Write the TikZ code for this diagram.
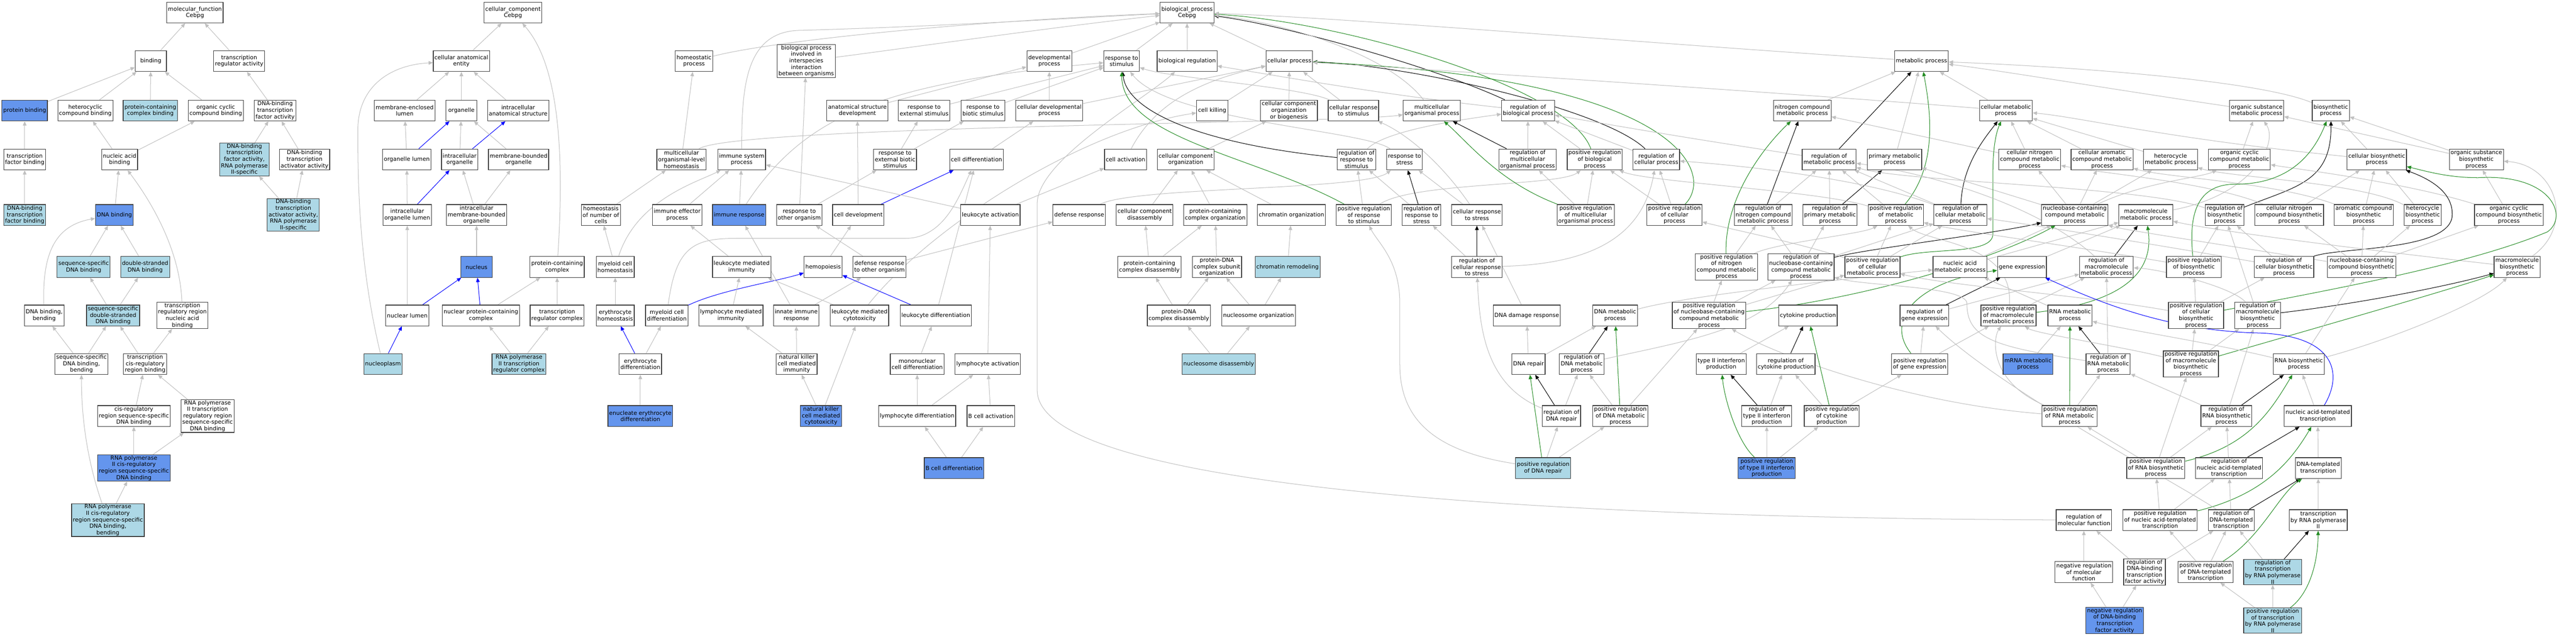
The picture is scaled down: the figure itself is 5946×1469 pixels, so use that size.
\documentclass[tikz,border=0pt]{standalone}
\usepackage{fontspec}
\setmainfont{DejaVu Sans}
\usetikzlibrary{arrows.meta}
\pgfdeclarelayer{back}
\pgfdeclarelayer{bg}
\pgfsetlayers{back,bg,main}
\definecolor{lbfill}{HTML}{ADD8E6}
\definecolor{cbfill}{HTML}{6495ED}
\definecolor{edgegray}{HTML}{C0C0C0}
\definecolor{grn}{HTML}{228B22}
\definecolor{bdr}{HTML}{3C3C3C}
\tikzset{
 bx/.style={draw=bdr, line width=1.5pt, fill=white, align=center, inner xsep=3pt, inner ysep=1.5pt, minimum width=72pt, minimum height=48pt, font=\fontsize{13}{15}\selectfont},
 bxl/.style={bx, fill=lbfill},
 bxc/.style={bx, fill=cbfill},
 lnk/.style={draw=edgegray, line width=1.2pt, -{Triangle[length=10pt,width=8.5pt]}},
 lnkb/.style={lnk, draw=blue},
 lnkk/.style={lnk, draw=black},
 lnkg/.style={lnk, draw=grn},
}
\begin{document}
\begin{tikzpicture}[x=1pt,y=-1pt]
\useasboundingbox (0,0) rectangle (5946,1469);
\begin{pgfonlayer}{back}
\fill[white] (0,0) rectangle (5946,1469);
\end{pgfonlayer}
% row 0
\node[bx] (mf) at (450,29) {molecular\_function\\Cebpg};
\node[bx] (cc) at (1184,29) {cellular\_component\\Cebpg};
\node[bx] (bp) at (2740,29) {biological\_process\\Cebpg};
% row 1
\node[bx] (binding) at (348,141) {binding};
\node[bx] (tra) at (552,141) {transcription\\regulator activity};
\node[bx] (cae) at (1065,141) {cellular anatomical\\entity};
\node[bx] (homeo) at (1602,141) {homeostatic\\process};
\node[bx] (bpi) at (1861,141) {biological process\\involved in\\interspecies\\interaction\\between organisms};
\node[bx] (dev) at (2422,141) {developmental\\process};
\node[bx] (rs) at (2589,141) {response to\\stimulus};
\node[bx] (breg) at (2740,141) {biological regulation};
\node[bx] (cp) at (2976,141) {cellular process};
\node[bx] (met) at (4435,141) {metabolic process};
% row 2
\node[bxc] (pb) at (57,255) {protein binding};
\node[bx] (hcb) at (197,255) {heterocyclic\\compound binding};
\node[bxl] (pccb) at (347,255) {protein-containing\\complex binding};
\node[bx] (occb) at (498,255) {organic cyclic\\compound binding};
\node[bx] (dbtf) at (635,255) {DNA-binding\\transcription\\factor activity};
\node[bx] (mel) at (934,255) {membrane-enclosed\\lumen};
\node[bx] (org) at (1065,255) {organelle};
\node[bx] (ias) at (1196,255) {intracellular\\anatomical structure};
\node[bx] (asd) at (1979,255) {anatomical structure\\development};
\node[bx] (rse) at (2133,255) {response to\\external stimulus};
\node[bx] (rbs) at (2269,255) {response to\\biotic stimulus};
\node[bx] (cdp) at (2422,255) {cellular developmental\\process};
\node[bx] (ck) at (2798,255) {cell killing};
\node[bx] (ccob) at (2975,255) {cellular component\\organization\\or biogenesis};
\node[bx] (crs) at (3124,255) {cellular response\\to stimulus};
\node[bx] (mop) at (3305,255) {multicellular\\organismal process};
\node[bx] (rbp) at (3527,255) {regulation of\\biological process};
\node[bx] (ncm) at (4160,255) {nitrogen compound\\metabolic process};
\node[bx] (cmp) at (4630,255) {cellular metabolic\\process};
\node[bx] (osm) at (5209,255) {organic substance\\metabolic process};
\node[bx] (bio) at (5380,255) {biosynthetic\\process};
% row 3
\node[bx] (tfb) at (57,368) {transcription\\factor binding};
\node[bx] (nab) at (276,368) {nucleic acid\\binding};
\node[bxl] (dbtf2) at (564,368) {DNA-binding\\transcription\\factor activity,\\RNA polymerase\\II-specific};
\node[bx] (dbta) at (703,368) {DNA-binding\\transcription\\activator activity};
\node[bx] (ol) at (939,368) {organelle lumen};
\node[bx] (io) at (1061,368) {intracellular\\organelle};
\node[bx] (mbo) at (1197,368) {membrane-bounded\\organelle};
\node[bx] (mloh) at (1573,368) {multicellular\\organismal-level\\homeostasis};
\node[bx] (isp) at (1712,368) {immune system\\process};
\node[bx] (rebs) at (2066,368) {response to\\external biotic\\stimulus};
\node[bx] (cdiff) at (2254,368) {cell differentiation};
\node[bx] (cact) at (2598,368) {cell activation};
\node[bx] (cco) at (2737,368) {cellular component\\organization};
\node[bx] (rrs) at (3131,368) {regulation of\\response to\\stimulus};
\node[bx] (rstress) at (3242,368) {response to\\stress};
\node[bx] (rmop) at (3526,368) {regulation of\\multicellular\\organismal process};
\node[bx] (prbp) at (3681,368) {positive regulation\\of biological\\process};
\node[bx] (rcp) at (3823,368) {regulation of\\cellular process};
\node[bx] (rmp) at (4222,368) {regulation of\\metabolic process};
\node[bx] (pmp) at (4373,368) {primary metabolic\\process};
\node[bx] (cncm) at (4685,368) {cellular nitrogen\\compound metabolic\\process};
\node[bx] (cacm) at (4852,368) {cellular aromatic\\compound metabolic\\process};
\node[bx] (hmp) at (5010,368) {heterocycle\\metabolic process};
\node[bx] (occm) at (5169,368) {organic cyclic\\compound metabolic\\process};
\node[bx] (cbp) at (5486,368) {cellular biosynthetic\\process};
\node[bx] (osb) at (5716,368) {organic substance\\biosynthetic\\process};
% row 4
\node[bxl] (dbtfb) at (57,496) {DNA-binding\\transcription\\factor binding};
\node[bxc] (dnab) at (264,496) {DNA binding};
\node[bxl] (dbta2) at (677,496) {DNA-binding\\transcription\\activator activity,\\RNA polymerase\\II-specific};
\node[bx] (iol) at (940,496) {intracellular\\organelle lumen};
\node[bx] (imbo) at (1100,496) {intracellular\\membrane-bounded\\organelle};
\node[bx] (hnc) at (1387,496) {homeostasis\\of number of\\cells};
\node[bx] (iep) at (1563,496) {immune effector\\process};
\node[bxc] (ir) at (1706,496) {immune response};
\node[bx] (rto) at (1845,496) {response to\\other organism};
\node[bx] (cdev) at (1981,496) {cell development};
\node[bx] (lact) at (2286,496) {leukocyte activation};
\node[bx] (dr) at (2491,496) {defense response};
\node[bx] (ccd) at (2642,496) {cellular component\\disassembly};
\node[bx] (pcco) at (2805,496) {protein-containing\\complex organization};
\node[bx] (chro) at (2981,496) {chromatin organization};
\node[bx] (prrs) at (3148,496) {positive regulation\\of response\\to stimulus};
\node[bx] (rrstress) at (3281,496) {regulation of\\response to\\stress};
\node[bx] (crstress) at (3409,496) {cellular response\\to stress};
\node[bx] (pmop) at (3660,496) {positive regulation\\of multicellular\\organismal process};
\node[bx] (pcp) at (3865,496) {positive regulation\\of cellular\\process};
\node[bx] (rncm) at (4070,496) {regulation of\\nitrogen compound\\metabolic process};
\node[bx] (rpmp) at (4224,496) {regulation of\\primary metabolic\\process};
\node[bx] (prmp) at (4376,496) {positive regulation\\of metabolic\\process};
\node[bx] (rcmp) at (4525,496) {regulation of\\cellular metabolic\\process};
\node[bx] (nbcm) at (4789,496) {nucleobase-containing\\compound metabolic\\process};
\node[bx] (mmp) at (4953,496) {macromolecule\\metabolic process};
\node[bx] (rbio) at (5135,496) {regulation of\\biosynthetic\\process};
\node[bx] (cncb) at (5284,496) {cellular nitrogen\\compound biosynthetic\\process};
\node[bx] (acb) at (5456,496) {aromatic compound\\biosynthetic\\process};
\node[bx] (hbp) at (5592,496) {heterocycle\\biosynthetic\\process};
\node[bx] (occb2) at (5791,496) {organic cyclic\\compound biosynthetic\\process};
% row 5
\node[bxl] (ssdb) at (193,616) {sequence-specific\\DNA binding};
\node[bxl] (dsdb) at (335,616) {double-stranded\\DNA binding};
\node[bxc] (nuc) at (1100,616) {nucleus};
\node[bx] (pcc) at (1286,616) {protein-containing\\complex};
\node[bx] (mch) at (1420,616) {myeloid cell\\homeostasis};
\node[bx] (lmi) at (1712,616) {leukocyte mediated\\immunity};
\node[bx] (hemo) at (1900,616) {hemopoiesis};
\node[bx] (drto) at (2030,616) {defense response\\to other organism};
\node[bx] (pccd) at (2653,616) {protein-containing\\complex disassembly};
\node[bx] (pdcso) at (2809,616) {protein-DNA\\complex subunit\\organization};
\node[bxl] (chrem) at (2972,616) {chromatin remodeling};
\node[bx] (rcrs) at (3409,616) {regulation of\\cellular response\\to stress};
\node[bx] (prncm) at (3985,616) {positive regulation\\of nitrogen\\compound metabolic\\process};
\node[bx] (rnbc) at (4157,616) {regulation of\\nucleobase-containing\\compound metabolic\\process};
\node[bx] (prcmp) at (4322,616) {positive regulation\\of cellular\\metabolic process};
\node[bx] (namp) at (4524,616) {nucleic acid\\metabolic process};
\node[bx] (ge) at (4667,616) {gene expression};
\node[bx] (rmmp) at (4862,616) {regulation of\\macromolecule\\metabolic process};
\node[bx] (prbio) at (5064,616) {positive regulation\\of biosynthetic\\process};
\node[bx] (rcbp) at (5272,616) {regulation of\\cellular biosynthetic\\process};
\node[bx] (nbcb) at (5451,616) {nucleobase-containing\\compound biosynthetic\\process};
\node[bx] (mbp) at (5810,616) {macromolecule\\biosynthetic\\process};
% row 6
\node[bx] (dbb) at (102,728) {DNA binding,\\bending};
\node[bxl] (ssdsdb) at (261,728) {sequence-specific\\double-stranded\\DNA binding};
\node[bx] (trrnab) at (421,728) {transcription\\regulatory region\\nucleic acid\\binding};
\node[bx] (nl) at (940,728) {nuclear lumen};
\node[bx] (npcc) at (1110,728) {nuclear protein-containing\\complex};
\node[bx] (trc) at (1286,728) {transcription\\regulator complex};
\node[bx] (eh) at (1420,728) {erythrocyte\\homeostasis};
\node[bx] (mcd) at (1539,728) {myeloid cell\\differentiation};
\node[bx] (lymi) at (1687,728) {lymphocyte mediated\\immunity};
\node[bx] (iir) at (1838,728) {innate immune\\response};
\node[bx] (lmc) at (1984,728) {leukocyte mediated\\cytotoxicity};
\node[bx] (ldiff) at (2160,728) {leukocyte differentiation};
\node[bx] (pdcd) at (2721,728) {protein-DNA\\complex disassembly};
\node[bx] (nso) at (2905,728) {nucleosome organization};
\node[bx] (ddr) at (3524,728) {DNA damage response};
\node[bx] (dmp) at (3728,728) {DNA metabolic\\process};
\node[bx] (prnbc) at (3945,728) {positive regulation\\of nucleobase-containing\\compound metabolic\\process};
\node[bx] (cyto) at (4173,728) {cytokine production};
\node[bx] (rge) at (4442,728) {regulation of\\gene expression};
\node[bx] (prmmp) at (4636,728) {positive regulation\\of macromolecule\\metabolic process};
\node[bx] (rnamp) at (4778,728) {RNA metabolic\\process};
\node[bx] (prcbp) at (5069,728) {positive regulation\\of cellular\\biosynthetic\\process};
\node[bx] (rmbp) at (5211,728) {regulation of\\macromolecule\\biosynthetic\\process};
% row 7
\node[bx] (ssdbb) at (188,840) {sequence-specific\\DNA binding,\\bending};
\node[bx] (tcrb) at (335,840) {transcription\\cis-regulatory\\region binding};
\node[bxl] (nplasm) at (884,840) {nucleoplasm};
\node[bxl] (rp2trc) at (1198,840) {RNA polymerase\\II transcription\\regulator complex};
\node[bx] (ed) at (1478,840) {erythrocyte\\differentiation};
\node[bx] (nkmi) at (1839,840) {natural killer\\cell mediated\\immunity};
\node[bx] (mncd) at (2117,840) {mononuclear\\cell differentiation};
\node[bx] (lyact) at (2280,840) {lymphocyte activation};
\node[bxl] (nsd) at (2813,840) {nucleosome disassembly};
\node[bx] (dnarep) at (3528,840) {DNA repair};
\node[bx] (rdmp) at (3651,840) {regulation of\\DNA metabolic\\process};
\node[bx] (t2ip) at (3973,840) {type II interferon\\production};
\node[bx] (rcyto) at (4122,840) {regulation of\\cytokine production};
\node[bx] (prge) at (4431,840) {positive regulation\\of gene expression};
\node[bxc] (mrna) at (4681,840) {mRNA metabolic\\process};
\node[bx] (rrnamp) at (4866,840) {regulation of\\RNA metabolic\\process};
\node[bx] (prmbp) at (5057,840) {positive regulation\\of macromolecule\\biosynthetic\\process};
\node[bx] (rnabp) at (5306,840) {RNA biosynthetic\\process};
% row 8
\node[bx] (crssdb) at (309,960) {cis-regulatory\\region sequence-specific\\DNA binding};
\node[bx] (rp2trr) at (479,960) {RNA polymerase\\II transcription\\regulatory region\\sequence-specific\\DNA binding};
\node[bxc] (eed) at (1478,960) {enucleate erythrocyte\\differentiation};
\node[bxc] (nkmc) at (1895,960) {natural killer\\cell mediated\\cytotoxicity};
\node[bx] (lydiff) at (2117,960) {lymphocyte differentiation};
\node[bx] (bact) at (2287,960) {B cell activation};
\node[bx] (rdnarep) at (3604,960) {regulation of\\DNA repair};
\node[bx] (prdmp) at (3740,960) {positive regulation\\of DNA metabolic\\process};
\node[bx] (rt2ip) at (4078,960) {regulation of\\type II interferon\\production};
\node[bx] (prcyto) at (4228,960) {positive regulation\\of cytokine\\production};
\node[bx] (prrnamp) at (4777,960) {positive regulation\\of RNA metabolic\\process};
\node[bx] (rrnabp) at (5139,960) {regulation of\\RNA biosynthetic\\process};
\node[bx] (natt) at (5350,960) {nucleic acid-templated\\transcription};
% row 9
\node[bxc] (rp2crb) at (309,1080) {RNA polymerase\\II cis-regulatory\\region sequence-specific\\DNA binding};
\node[bxc] (bdiff) at (2202,1080) {B cell differentiation};
\node[bxl] (prdnarep) at (3562,1080) {positive regulation\\of DNA repair};
\node[bxc] (prt2ip) at (4078,1080) {positive regulation\\of type II interferon\\production};
\node[bx] (prrnabp) at (4976,1080) {positive regulation\\of RNA biosynthetic\\process};
\node[bx] (rnatt) at (5145,1080) {regulation of\\nucleic acid-templated\\transcription};
\node[bx] (dtt) at (5351,1080) {DNA-templated\\transcription};
% row 10
\node[bxl] (rp2crbb) at (249,1200) {RNA polymerase\\II cis-regulatory\\region sequence-specific\\DNA binding,\\bending};
\node[bx] (rmf) at (4810,1200) {regulation of\\molecular function};
\node[bx] (prnatt) at (4986,1200) {positive regulation\\of nucleic acid-templated\\transcription};
\node[bx] (rdtt) at (5150,1200) {regulation of\\DNA-templated\\transcription};
\node[bx] (trp2) at (5351,1200) {transcription\\by RNA polymerase\\II};
% row 11
\node[bx] (nrmf) at (4810,1320) {negative regulation\\of molecular\\function};
\node[bx] (rdbtf) at (4950,1320) {regulation of\\DNA-binding\\transcription\\factor activity};
\node[bx] (prdtt) at (5091,1320) {positive regulation\\of DNA-templated\\transcription};
\node[bxl] (rtrp2) at (5246,1320) {regulation of\\transcription\\by RNA polymerase\\II};
% row 12
\node[bxc] (nrdbtf) at (4881,1432) {negative regulation\\of DNA-binding\\transcription\\factor activity};
\node[bxl] (prtrp2) at (5246,1432) {positive regulation\\of transcription\\by RNA polymerase\\II};

\begin{pgfonlayer}{bg}
% molecular function
\draw[lnk] (binding) -- (mf);
\draw[lnk] (tra) -- (mf);
\draw[lnk] (pb) -- (binding);
\draw[lnk] (hcb) -- (binding);
\draw[lnk] (pccb) -- (binding);
\draw[lnk] (occb) -- (binding);
\draw[lnk] (dbtf) -- (tra);
\draw[lnk] (tfb) -- (pb);
\draw[lnk] (nab) -- (hcb);
\draw[lnk] (nab) -- (occb);
\draw[lnk] (dbtf2) -- (dbtf);
\draw[lnk] (dbta) -- (dbtf);
\draw[lnk] (dbtfb) -- (tfb);
\draw[lnk] (dnab) -- (nab);
\draw[lnk] (trrnab) .. controls (415,560) and (330,440) .. (nab);
\draw[lnk] (dbta2) -- (dbtf2);
\draw[lnk] (dbta2) -- (dbta);
\draw[lnk] (ssdb) -- (dnab);
\draw[lnk] (dsdb) -- (dnab);
\draw[lnk] (dbb) .. controls (97,580) and (130,520) .. (dnab);
\draw[lnk] (ssdsdb) -- (ssdb);
\draw[lnk] (ssdsdb) -- (dsdb);
\draw[lnk] (ssdbb) -- (dbb);
\draw[lnk] (ssdbb) -- (ssdsdb);
\draw[lnk] (tcrb) -- (ssdsdb);
\draw[lnk] (tcrb) -- (trrnab);
\draw[lnk] (crssdb) -- (tcrb);
\draw[lnk] (rp2trr) -- (tcrb);
\draw[lnk] (rp2crb) -- (crssdb);
\draw[lnk] (rp2crb) -- (rp2trr);
\draw[lnk] (rp2crbb) -- (rp2crb);
\draw[lnk] (rp2crbb) .. controls (200,1060) and (188,960) .. (ssdbb);
% cellular component
\draw[lnk] (cae) -- (cc);
\draw[lnk] (pcc) .. controls (1303,350) and (1290,150) .. (cc);
\draw[lnk] (mel) -- (cae);
\draw[lnk] (org) -- (cae);
\draw[lnk] (ias) -- (cae);
\draw[lnk] (ol) -- (mel);
\draw[lnkb] (ol) -- (org);
\draw[lnk] (io) -- (org);
\draw[lnkb] (io) -- (ias);
\draw[lnk] (mbo) -- (org);
\draw[lnk] (iol) -- (ol);
\draw[lnkb] (iol) -- (io);
\draw[lnk] (imbo) -- (io);
\draw[lnk] (imbo) -- (mbo);
\draw[lnk] (nuc) -- (imbo);
\draw[lnk] (nl) -- (iol);
\draw[lnkb] (nl) -- (nuc);
\draw[lnkb] (nplasm) -- (nl);
\draw[lnk] (nplasm) .. controls (826,600) and (826,400) .. (826,300) .. controls (826,200) and (900,150) .. (cae);
\draw[lnkb] (npcc) -- (nuc);
\draw[lnk] (npcc) -- (pcc);
\draw[lnk] (trc) -- (pcc);
\draw[lnk] (rp2trc) -- (npcc);
\draw[lnk] (rp2trc) -- (trc);
% biological process: top level
\draw[lnk] (homeo) .. controls (1800,90) and (2300,45) .. (bp);
\draw[lnk] (bpi) .. controls (2100,110) and (2450,60) .. (bp);
\draw[lnk] (isp) .. controls (1712,200) and (1720,70) .. (1850,70) .. controls (2200,60) and (2500,40) .. (bp);
\draw[lnk] (dev) -- (bp);
\draw[lnk] (rs) -- (bp);
\draw[lnk] (breg) -- (bp);
\draw[lnk] (cp) -- (bp);
\draw[lnkk] (rbp) .. controls (3300,150) and (2950,55) .. (bp);
\draw[lnkg] (prbp) .. controls (3620,200) and (3100,50) .. (bp);
\draw[lnk] (mop) .. controls (3200,120) and (2950,50) .. (bp);
\draw[lnk] (met) .. controls (3800,100) and (3100,40) .. (bp);
% development / response
\draw[lnk] (asd) -- (dev);
\draw[lnk] (rse) -- (rs);
\draw[lnk] (rbs) -- (rs);
\draw[lnk] (cdp) -- (dev);
\draw[lnk] (cdp) -- (cp);
\draw[lnk] (ck) -- (cp);
\draw[lnk] (ccob) -- (cp);
\draw[lnk] (rebs) -- (rse);
\draw[lnk] (rebs) -- (rbs);
\draw[lnk] (cdiff) -- (cdp);
\draw[lnk] (cact) .. controls (2660,250) and (2750,190) .. (cp);
\draw[lnk] (cco) -- (ccob);
\draw[lnk] (lact) -- (cact);
\draw[lnk] (dr) .. controls (2620,430) and (3150,440) .. (rstress);
\draw[lnk] (ccd) -- (cco);
\draw[lnk] (pcco) -- (cco);
\draw[lnk] (chro) -- (cco);
\draw[lnk] (pccd) -- (ccd);
\draw[lnk] (pccd) -- (pcco);
\draw[lnk] (pdcso) -- (pcco);
\draw[lnk] (chrem) -- (chro);
\draw[lnk] (pdcd) -- (pccd);
\draw[lnk] (pdcd) -- (pdcso);
\draw[lnk] (nso) -- (pdcso);
\draw[lnk] (nso) -- (chrem);
\draw[lnk] (nsd) -- (pdcd);
\draw[lnk] (nsd) -- (nso);
\draw[lnk] (drto) -- (dr);
\draw[lnk] (drto) -- (rto);
\draw[lnkb] (cdev) -- (cdiff);
\draw[lnk] (cdev) -- (asd);
\draw[lnk] (hemo) -- (cdev);
\draw[lnk] (ir) -- (isp);
\draw[lnk] (ir) .. controls (1860,260) and (2050,190) .. (rs);
\draw[lnk] (iep) -- (isp);
\draw[lnk] (hnc) -- (mloh);
\draw[lnk] (mloh) -- (homeo);
\draw[lnk] (mloh) .. controls (1700,290) and (3100,285) .. (mop);
\draw[lnk] (mch) -- (hnc);
\draw[lnk] (mch) .. controls (1470,460) and (1610,420) .. (isp);
\draw[lnk] (lmi) -- (iep);
\draw[lnk] (iir) -- (ir);
\draw[lnk] (iir) -- (drto);
\draw[lnk] (eh) -- (mch);
\draw[lnkb] (mcd) .. controls (1660,670) and (1790,650) .. (hemo);
\draw[lnk] (mcd) .. controls (1560,570) and (1600,550) .. (1700,550) -- (2090,550) .. controls (2180,550) and (2215,450) .. (cdiff);
\draw[lnk] (lymi) -- (lmi);
\draw[lnk] (lmc) -- (lmi);
\draw[lnk] (lmc) .. controls (2150,520) and (2500,300) .. (ck);
\draw[lnkb] (ldiff) -- (hemo);
\draw[lnk] (ldiff) -- (cdiff);
\draw[lnk] (lact) -- (isp);
\draw[lnk] (rto) -- (bpi);
\draw[lnk] (rto) -- (rebs);
\draw[lnk] (lyact) -- (lact);
\draw[lnk] (mncd) -- (ldiff);
\draw[lnk] (lydiff) -- (mncd);
\draw[lnk] (lydiff) -- (lyact);
\draw[lnk] (bact) -- (lyact);
\draw[lnk] (bdiff) -- (lydiff);
\draw[lnk] (bdiff) -- (bact);
\draw[lnk] (nkmi) -- (lymi);
\draw[lnk] (nkmi) -- (iir);
\draw[lnk] (nkmc) -- (nkmi);
\draw[lnk] (nkmc) -- (lmc);
\draw[lnkb] (ed) -- (eh);
\draw[lnk] (ed) -- (mcd);
\draw[lnk] (eed) -- (ed);
\draw[lnk] (rmf) .. controls (3600,1195) and (2394,1130) .. (2394,900) -- (2394,470) .. controls (2394,370) and (2640,230) .. (breg);
% regulation
\draw[lnk] (crs) -- (cp);
\draw[lnk] (crs) .. controls (3000,200) and (2700,180) .. (rs);
\draw[lnk] (rstress) .. controls (3150,300) and (2700,280) .. (rs);
\draw[lnk] (rbp) .. controls (3200,220) and (2950,175) .. (breg);
\draw[lnkk] (rrs) .. controls (2750,330) and (2600,250) .. (rs);
\draw[lnk] (rrs) .. controls (3200,300) and (3380,275) .. (rbp);
\draw[lnkk] (rmop) -- (mop);
\draw[lnk] (rmop) -- (rbp);
\draw[lnk] (prbp) -- (rbp);
\draw[lnkk] (rcp) .. controls (3700,250) and (3250,150) .. (cp);
\draw[lnk] (rcp) -- (rbp);
\draw[lnkg] (prrs) .. controls (2900,360) and (2590,320) .. (rs);
\draw[lnk] (prrs) -- (rrs);
\draw[lnk] (prrs) .. controls (3260,420) and (3600,430) .. (prbp);
\draw[lnkk] (rrstress) -- (rstress);
\draw[lnk] (rrstress) -- (rrs);
\draw[lnk] (crstress) -- (rstress);
\draw[lnk] (crstress) .. controls (3330,380) and (3250,310) .. (crs);
\draw[lnkg] (pmop) .. controls (3460,420) and (3390,330) .. (mop);
\draw[lnk] (pmop) -- (rmop);
\draw[lnk] (pmop) -- (prbp);
\draw[lnkg] (pcp) .. controls (3960,400) and (3880,180) .. (cp);
\draw[lnk] (pcp) -- (rcp);
\draw[lnk] (pcp) -- (prbp);
\draw[lnkk] (rcrs) -- (crstress);
\draw[lnk] (rcrs) -- (rrstress);
\draw[lnk] (rcrs) .. controls (3650,610) and (3790,560) .. (rcp);
\draw[lnk] (ddr) -- (crstress);
\draw[lnk] (dnarep) -- (ddr);
\draw[lnk] (dnarep) -- (dmp);
\draw[lnkk] (rdnarep) -- (dnarep);
\draw[lnk] (rdnarep) -- (rdmp);
\draw[lnk] (rdnarep) .. controls (3430,890) and (3415,760) .. (rcrs);
\draw[lnkk] (rdmp) -- (dmp);
\draw[lnkg] (prdmp) -- (dmp);
\draw[lnk] (prdmp) -- (rdmp);
\draw[lnk] (prdmp) -- (prnbc);
\draw[lnkg] (prdnarep) -- (dnarep);
\draw[lnk] (prdnarep) -- (rdnarep);
\draw[lnk] (prdnarep) -- (prdmp);
\draw[lnk] (prdnarep) .. controls (3300,1040) and (3231,960) .. (3231,840) -- (3231,700) .. controls (3231,600) and (3180,560) .. (prrs);
\draw[lnk] (rdmp) .. controls (3900,785) and (4060,760) .. (rnbc);
\draw[lnk] (dmp) .. controls (3900,680) and (4300,640) .. (namp);
% metabolism
\draw[lnk] (ncm) -- (met);
\draw[lnk] (cmp) -- (met);
\draw[lnk] (cmp) .. controls (4200,220) and (3300,160) .. (cp);
\draw[lnkk] (rmp) -- (met);
\draw[lnk] (rmp) .. controls (3900,320) and (3700,285) .. (rbp);
\draw[lnk] (pmp) -- (met);
\draw[lnk] (cncm) -- (ncm);
\draw[lnk] (cncm) -- (cmp);
\draw[lnk] (cacm) -- (cmp);
\draw[lnk] (hmp) -- (cmp);
\draw[lnk] (occm) -- (osm);
\draw[lnk] (osm) .. controls (4900,210) and (4600,160) .. (met);
\draw[lnk] (bio) .. controls (5200,180) and (4700,150) .. (met);
\draw[lnk] (cbp) -- (bio);
\draw[lnk] (cbp) .. controls (5000,320) and (4800,270) .. (cmp);
\draw[lnk] (osb) -- (bio);
\draw[lnk] (osb) -- (osm);
\draw[lnkk] (rncm) -- (ncm);
\draw[lnk] (rncm) -- (rmp);
\draw[lnkk] (rpmp) -- (pmp);
\draw[lnk] (rpmp) -- (rmp);
\draw[lnkg] (prmp) .. controls (4475,380) and (4455,250) .. (met);
\draw[lnk] (prmp) -- (rmp);
\draw[lnk] (prmp) .. controls (4200,440) and (3800,420) .. (prbp);
\draw[lnkk] (rcmp) .. controls (4530,380) and (4580,320) .. (cmp);
\draw[lnk] (rcmp) -- (rmp);
\draw[lnk] (rcmp) .. controls (4300,410) and (4000,380) .. (rcp);
\draw[lnk] (nbcm) -- (cncm);
\draw[lnk] (nbcm) -- (cacm);
\draw[lnk] (nbcm) -- (hmp);
\draw[lnk] (nbcm) .. controls (4950,420) and (5080,410) .. (occm);
\draw[lnk] (nbcm) -- (pmp);
\draw[lnk] (mmp) .. controls (5200,450) and (5260,330) .. (osm);
\draw[lnkk] (rnbc) .. controls (4300,575) and (4600,540) .. (nbcm);
\draw[lnk] (rnbc) -- (rcmp);
\draw[lnk] (rnbc) -- (rpmp);
\draw[lnk] (rnbc) -- (rncm);
\draw[lnkg] (prcmp) .. controls (4450,570) and (4600,590) .. (4600,540) -- (4600,400) .. controls (4600,330) and (4610,300) .. (cmp);
\draw[lnk] (prcmp) -- (rcmp);
\draw[lnk] (prcmp) -- (prmp);
\draw[lnk] (prcmp) .. controls (4150,560) and (4000,530) .. (pcp);
\draw[lnkg] (prncm) .. controls (3980,450) and (4080,330) .. (ncm);
\draw[lnk] (prncm) -- (rncm);
\draw[lnk] (prncm) .. controls (4100,560) and (4300,540) .. (prmp);
\draw[lnk] (namp) -- (nbcm);
\draw[lnk] (namp) -- (mmp);
\draw[lnk] (ge) -- (mmp);
\draw[lnkk] (rmmp) -- (mmp);
\draw[lnk] (rmmp) .. controls (4700,470) and (4450,400) .. (rmp);
\draw[lnkg] (prnbc) .. controls (4300,690) and (4600,600) .. (nbcm);
\draw[lnk] (prnbc) -- (rnbc);
\draw[lnk] (prnbc) -- (prcmp);
\draw[lnk] (prnbc) -- (prncm);
\draw[lnkk] (rge) -- (ge);
\draw[lnk] (rge) -- (rmmp);
\draw[lnkg] (prmmp) .. controls (4880,700) and (4975,640) .. (mmp);
\draw[lnk] (prmmp) -- (rmmp);
\draw[lnk] (prmmp) .. controls (4650,560) and (4450,560) .. (prmp);
\draw[lnk] (rnamp) -- (namp);
\draw[lnkg] (prge) .. controls (4350,740) and (4420,650) .. (ge);
\draw[lnk] (prge) -- (rge);
\draw[lnk] (prge) -- (prmmp);
\draw[lnk] (mrna) -- (rnamp);
\draw[lnkk] (rrnamp) -- (rnamp);
\draw[lnk] (rrnamp) .. controls (4600,800) and (4540,780) .. (4540,700) .. controls (4540,660) and (4300,660) .. (rnbc);
\draw[lnk] (rrnamp) -- (rmmp);
\draw[lnkg] (prrnamp) -- (rnamp);
\draw[lnk] (prrnamp) -- (rrnamp);
\draw[lnk] (prrnamp) .. controls (4400,930) and (4100,820) .. (prnbc);
\draw[lnk] (prrnamp) .. controls (4590,880) and (4600,780) .. (prmmp);
\draw[lnk] (t2ip) -- (cyto);
\draw[lnkk] (rcyto) -- (cyto);
\draw[lnkk] (rt2ip) -- (t2ip);
\draw[lnk] (rt2ip) -- (rcyto);
\draw[lnkg] (prcyto) -- (cyto);
\draw[lnk] (prcyto) -- (rcyto);
\draw[lnk] (prcyto) -- (prge);
\draw[lnkg] (prt2ip) .. controls (4010,1020) and (3980,920) .. (t2ip);
\draw[lnk] (prt2ip) -- (rt2ip);
\draw[lnk] (prt2ip) -- (prcyto);
\draw[lnk] (nrmf) -- (rmf);
\draw[lnk] (rdbtf) -- (rmf);
\draw[lnk] (rdbtf) -- (rdtt);
\draw[lnk] (nrdbtf) -- (nrmf);
\draw[lnk] (nrdbtf) -- (rdbtf);
% biosynthesis
\draw[lnkk] (rbio) .. controls (5300,430) and (5382,420) .. (bio);
\draw[lnk] (rbio) .. controls (4950,430) and (4400,420) .. (rmp);
\draw[lnk] (cncb) -- (cbp);
\draw[lnk] (cncb) .. controls (5100,420) and (4850,400) .. (cncm);
\draw[lnk] (acb) -- (cbp);
\draw[lnk] (acb) .. controls (5250,420) and (5000,410) .. (cacm);
\draw[lnk] (hbp) -- (cbp);
\draw[lnk] (hbp) .. controls (5450,420) and (5150,410) .. (hmp);
\draw[lnk] (occb2) -- (osb);
\draw[lnk] (occb2) .. controls (5550,420) and (5300,390) .. (occm);
\draw[lnkg] (prbio) .. controls (5050,480) and (5080,425) .. (5160,425) .. controls (5260,425) and (5330,380) .. (bio);
\draw[lnk] (prbio) -- (rbio);
\draw[lnk] (prbio) .. controls (4800,570) and (4500,530) .. (prmp);
\draw[lnkk] (rcbp) .. controls (5400,570) and (5650,580) .. (5660,500) .. controls (5665,440) and (5600,410) .. (cbp);
\draw[lnk] (rcbp) -- (rbio);
\draw[lnk] (rcbp) .. controls (4950,560) and (4700,520) .. (rcmp);
\draw[lnk] (nbcb) -- (cncb);
\draw[lnk] (nbcb) -- (acb);
\draw[lnk] (nbcb) -- (hbp);
\draw[lnk] (nbcb) -- (occb2);
\draw[lnk] (nbcb) .. controls (5100,560) and (4900,530) .. (nbcm);
\draw[lnk] (mbp) .. controls (5400,570) and (5100,530) .. (mmp);
\draw[lnk] (mbp) .. controls (5945,520) and (5900,380) .. (osb);
\draw[lnkg] (prcbp) .. controls (5400,665) and (5700,610) .. (5880,535) .. controls (5930,500) and (5890,400) .. (5720,410) .. controls (5650,410) and (5600,395) .. (cbp);
\draw[lnk] (prcbp) -- (rcbp);
\draw[lnk] (prcbp) -- (prbio);
\draw[lnk] (prcbp) .. controls (4800,680) and (4500,660) .. (prcmp);
\draw[lnkk] (rmbp) .. controls (5450,700) and (5650,660) .. (mbp);
\draw[lnk] (rmbp) -- (rbio);
\draw[lnk] (rmbp) .. controls (5150,660) and (4980,620) .. (rmmp);
\draw[lnkg] (prmbp) .. controls (5300,770) and (5650,670) .. (mbp);
\draw[lnk] (prmbp) -- (rmbp);
\draw[lnk] (prmbp) -- (prcbp);
\draw[lnk] (prmbp) .. controls (4900,800) and (4700,770) .. (prmmp);
\draw[lnk] (rnabp) -- (nbcb);
\draw[lnk] (rnabp) .. controls (5100,790) and (4900,760) .. (rnamp);
\draw[lnk] (rnabp) .. controls (5500,790) and (5730,700) .. (mbp);
\draw[lnkk] (rrnabp) -- (rnabp);
\draw[lnk] (rrnabp) -- (rrnamp);
\draw[lnk] (rrnabp) -- (rmbp);
\draw[lnkg] (prrnabp) .. controls (5190,1030) and (5240,950) .. (rnabp);
\draw[lnk] (prrnabp) -- (rrnabp);
\draw[lnk] (prrnabp) -- (prrnamp);
\draw[lnk] (prrnabp) -- (prmbp);
\draw[lnkb] (natt) .. controls (5410,860) and (5390,770) .. (5200,768) .. controls (5000,760) and (4850,700) .. (ge);
\draw[lnk] (natt) -- (rnabp);
\draw[lnkk] (rnatt) -- (natt);
\draw[lnk] (rnatt) -- (rrnabp);
\draw[lnk] (dtt) -- (natt);
\draw[lnkg] (prnatt) .. controls (5230,1140) and (5290,1060) .. (natt);
\draw[lnk] (prnatt) -- (rnatt);
\draw[lnk] (prnatt) -- (prrnabp);
\draw[lnkk] (rdtt) -- (dtt);
\draw[lnk] (rdtt) -- (rnatt);
\draw[lnk] (rdtt) .. controls (5060,1135) and (4620,900) .. (rge);
\draw[lnk] (trp2) -- (dtt);
\draw[lnkg] (prdtt) .. controls (5220,1240) and (5260,1140) .. (dtt);
\draw[lnk] (prdtt) -- (rdtt);
\draw[lnk] (prdtt) -- (prnatt);
\draw[lnkk] (rtrp2) -- (trp2);
\draw[lnk] (rtrp2) -- (rdtt);
\draw[lnkg] (prtrp2) .. controls (5330,1370) and (5350,1300) .. (trp2);
\draw[lnk] (prtrp2) -- (rtrp2);
\draw[lnk] (prtrp2) -- (prdtt);
\end{pgfonlayer}
\end{tikzpicture}
\end{document}
